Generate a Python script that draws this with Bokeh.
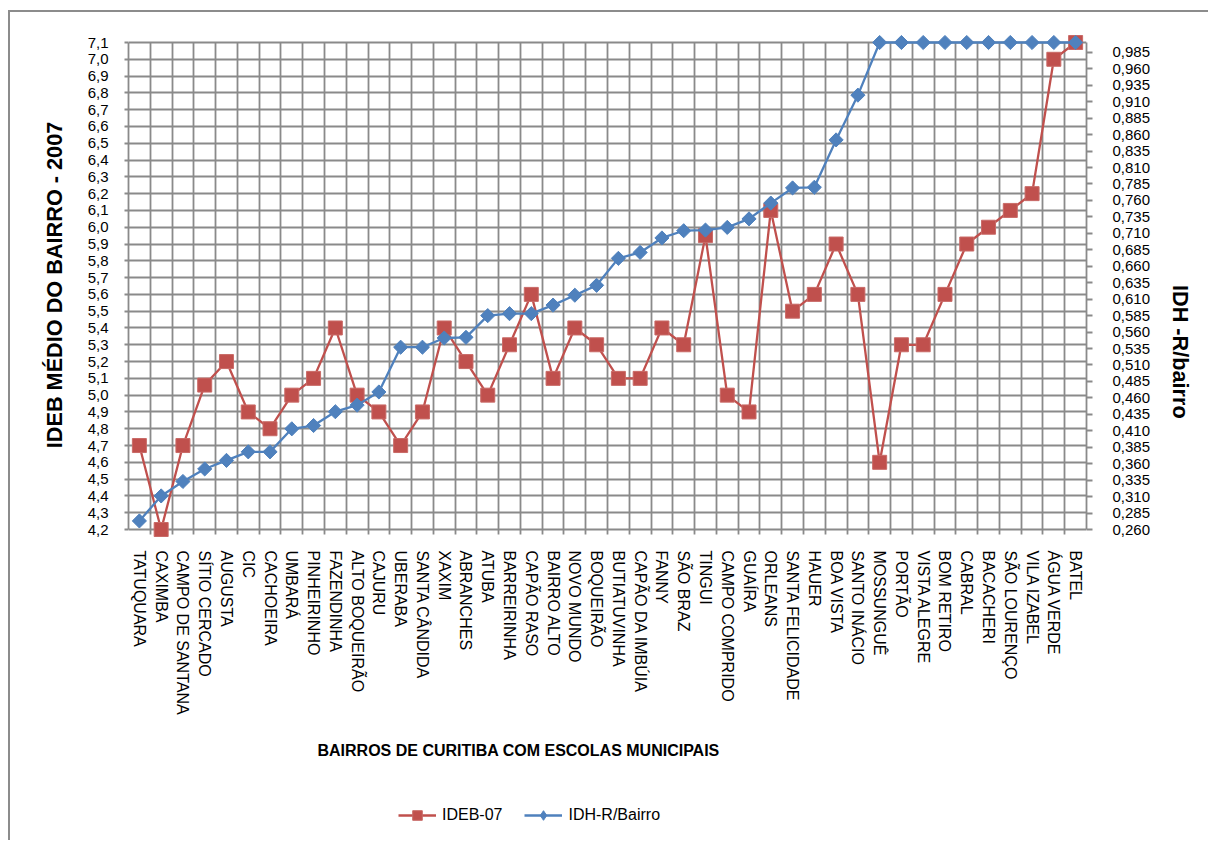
import math
from bokeh.plotting import figure
from bokeh.layouts import column
from bokeh.models import (Range1d, LinearAxis, FixedTicker, CustomJSTickFormatter,
                          Legend, LegendItem, BoxAnnotation, Title, Grid, ColumnDataSource)
from bokeh.embed import file_html
from bokeh.resources import INLINE

categories = ["TATUQUARA", "CAXIMBA", "CAMPO DE SANTANA", "SÍTIO CERCADO", "AUGUSTA", "CIC",
              "CACHOEIRA", "UMBARÁ", "PINHEIRINHO", "FAZENDINHA", "ALTO BOQUEIRÃO", "CAJURU",
              "UBERABA", "SANTA CÂNDIDA", "XAXIM", "ABRANCHES", "ATUBA", "BARREIRINHA",
              "CAPÃO RASO", "BAIRRO ALTO", "NOVO MUNDO", "BOQUEIRÃO", "BUTIATUVINHA",
              "CAPÃO DA IMBÚIA", "FANNY", "SÃO BRAZ", "TINGUI", "CAMPO COMPRIDO", "GUAÍRA",
              "ORLEANS", "SANTA FELICIDADE", "HAUER", "BOA VISTA", "SANTO INÁCIO", "MOSSUNGUÊ",
              "PORTÃO", "VISTA ALEGRE", "BOM RETIRO", "CABRAL", "BACACHERI", "SÃO LOURENÇO",
              "VILA IZABEL", "ÁGUA VERDE", "BATEL"]

ideb_07 = [4.7, 4.2, 4.7, 5.06, 5.2, 4.9, 4.8, 5.0, 5.1, 5.4, 5.0, 4.9, 4.7, 4.9, 5.4,
           5.2, 5.0, 5.3, 5.6, 5.1, 5.4, 5.3, 5.1, 5.1, 5.4, 5.3, 5.95, 5.0, 4.9, 6.1,
           5.5, 5.6, 5.9, 5.6, 4.6, 5.3, 5.3, 5.6, 5.9, 6.0, 6.1, 6.2, 7.0, 7.1]

idh_r = [0.273, 0.311, 0.333, 0.352, 0.365, 0.378, 0.378, 0.413, 0.418, 0.439, 0.449,
         0.469, 0.537, 0.537, 0.551, 0.552, 0.585, 0.588, 0.588, 0.601, 0.616, 0.631,
         0.672, 0.681, 0.703, 0.714, 0.715, 0.719, 0.732, 0.756, 0.779, 0.780, 0.852,
         0.920, 1.0, 1.0, 1.0, 1.0, 1.0, 1.0, 1.0, 1.0, 1.0, 1.0]

left_min, left_max = 4.2, 7.1
right_min, right_max = 0.26, 1.0
left_ticks = [round(left_min + 0.1 * i, 1) for i in range(30)]
right_ticks = [round(right_min + 0.025 * i, 3) for i in range(30)]

FONT = "Liberation Sans"
GRID = "#8a8a8a"
RED = "#C0504D"
BLUE = "#4F81BD"

W, H = 1198, 780
MB_L, MB_R, MB_T, MB_B = 118, 122, 20, 255
PAD_T, PAD_B = 10, 8
inner_h = 505 - PAD_T - PAD_B
ls = (left_max - left_min) / inner_h
rs = (right_max - right_min) / inner_h

n = len(categories)
xs = [i + 0.5 for i in range(n)]
src = ColumnDataSource(dict(x=xs, ideb=ideb_07, idh=idh_r, name=categories))

p = figure(width=W, height=H, output_backend="svg", toolbar_location=None,
           x_range=Range1d(0, n),
           y_range=Range1d(left_min - PAD_B * ls, left_max + PAD_T * ls),
           min_border_left=MB_L, min_border_right=MB_R,
           min_border_top=MB_T, min_border_bottom=MB_B)
p.extra_y_ranges = {"idh": Range1d(right_min - PAD_B * rs, right_max + PAD_T * rs)}
p.outline_line_color = None
p.background_fill_color = "white"
p.border_fill_color = "white"

# grids
p.ygrid.ticker = FixedTicker(ticks=left_ticks)
p.ygrid.grid_line_color = GRID
p.ygrid.grid_line_width = 1.8
p.xgrid.ticker = FixedTicker(ticks=list(range(0, n + 1)))
p.xgrid.grid_line_color = GRID
p.xgrid.grid_line_width = 1.8
if "cross_bounds" in Grid.properties():
    p.xgrid.cross_bounds = (left_min - 5 * ls, left_max)
else:
    box = BoxAnnotation(left=0, right=n, bottom=left_max + 1.2 * ls,
                        top=left_max + PAD_T * ls + 1, fill_color="white", fill_alpha=1,
                        line_color=None, level="underlay")
    p.add_layout(box)

# x axis
xa = p.xaxis[0]
xa.ticker = FixedTicker(ticks=xs)
xa.formatter = CustomJSTickFormatter(args=dict(names=categories),
                                     code="return names[Math.floor(tick)] || '';")
xa.major_label_orientation = "vertical"
xa.axis_line_color = None
xa.major_tick_line_color = None
xa.major_tick_in = 0
xa.major_tick_out = 0
xa.minor_tick_line_color = None
xa.major_label_standoff = 13
xa.major_label_text_font = FONT
xa.major_label_text_font_size = "16px"
xa.major_label_text_color = "black"

# left axis
ya = p.yaxis[0]
ya.ticker = FixedTicker(ticks=left_ticks)
ya.formatter = CustomJSTickFormatter(code="return tick.toFixed(1).replace('.', ',');")
ya.bounds = (left_min, left_max)
ya.axis_line_color = GRID
ya.axis_line_width = 1.8
ya.major_tick_line_color = GRID
ya.major_tick_line_width = 1.8
ya.major_tick_in = 0
ya.major_tick_out = 4
ya.minor_tick_line_color = None
ya.major_label_standoff = 16
ya.major_label_text_font = FONT
ya.major_label_text_font_size = "15px"
ya.major_label_text_color = "black"
ya.axis_label = "IDEB MÉDIO DO BAIRRO - 2007"
ya.axis_label_text_font = FONT
ya.axis_label_text_font_size = "21.7px"
ya.axis_label_text_font_style = "bold"
ya.axis_label_text_color = "black"
ya.axis_label_standoff = 18

# right axis
ra = LinearAxis(y_range_name="idh", ticker=FixedTicker(ticks=right_ticks),
                formatter=CustomJSTickFormatter(code="return tick.toFixed(3).replace('.', ',');"),
                bounds=(right_min, right_max))
ra.axis_line_color = GRID
ra.axis_line_width = 1.8
ra.major_tick_line_color = GRID
ra.major_tick_line_width = 1.8
ra.major_tick_in = 0
ra.major_tick_out = 6
ra.minor_tick_line_color = None
ra.major_label_standoff = 20
ra.major_label_text_font = FONT
ra.major_label_text_font_size = "15px"
ra.major_label_text_color = "black"
ra.axis_label = "IDH -R/bairro"
ra.axis_label_text_font = FONT
ra.axis_label_text_font_size = "21.7px"
ra.axis_label_text_font_style = "bold"
ra.axis_label_text_color = "black"
ra.axis_label_standoff = 27
if "axis_label_orientation" in LinearAxis.properties():
    ra.axis_label_orientation = -math.pi / 2
p.add_layout(ra, "right")

# bottom title
t = Title(text="BAIRROS DE CURITIBA COM ESCOLAS MUNICIPAIS", align="left", offset=189,
          text_font=FONT, text_font_size="16px", text_font_style="bold",
          text_color="black", standoff=45)
p.add_layout(t, "below")

# series
def add_series(fig, blue_marker, blue_angle, blue_size):
    rl = fig.line("x", "ideb", source=src, line_color=RED, line_width=2.3)
    rsq = fig.scatter("x", "ideb", source=src, marker="square", size=14,
                      fill_color=RED, line_color="#c96a67", line_width=1)
    bl = fig.line("x", "idh", source=src, line_color=BLUE, line_width=2.3,
                  y_range_name="idh")
    bdi = fig.scatter("x", "idh", source=src, marker=blue_marker, angle=blue_angle,
                      size=blue_size, fill_color=BLUE, line_color=BLUE, line_width=1,
                      y_range_name="idh")
    return rl, rsq, bl, bdi

add_series(p, "square", 0.785398, 10)

# legend strip below the chart (same series, drawn out of view, only their keys show)
LH = 48
pl = figure(width=W, height=LH, output_backend="svg", toolbar_location=None,
            x_range=Range1d(-200, -199), y_range=Range1d(-200, -199),
            x_axis_type=None, y_axis_type=None, min_border=0)
pl.extra_y_ranges = {"idh": Range1d(-200, -199)}
pl.outline_line_color = None
pl.grid.visible = False
pl.background_fill_color = "white"
pl.border_fill_color = "white"
lrl, lrsq, lbl, lbdi = add_series(pl, "diamond", 0, 16)
legend = Legend(items=[LegendItem(label="IDEB-07", renderers=[lrl, lrsq]),
                       LegendItem(label="IDH-R/Bairro", renderers=[lbl, lbdi])],
                orientation="horizontal", location=(270, 13),
                border_line_color=None, background_fill_alpha=0,
                padding=0, margin=0, glyph_width=38, glyph_height=24,
                label_standoff=6, spacing=22,
                label_text_font=FONT, label_text_font_size="16px",
                label_text_color="black")
pl.add_layout(legend, "center")

layout = column(p, pl, spacing=0)
layout.styles = {"margin-left": "8px", "margin-top": "10px",
                 "border-top": "2px solid #8c8c8c", "border-left": "2px solid #8c8c8c"}

open("out.html", "w").write(file_html(layout, INLINE))
